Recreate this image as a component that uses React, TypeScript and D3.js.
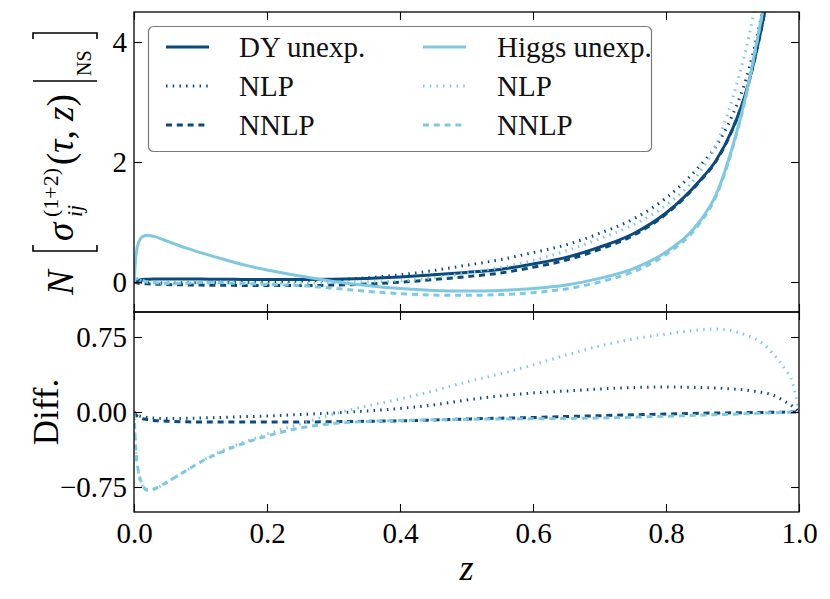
import React, { useRef, useEffect } from "react";
import * as d3 from "d3";

// z grid (denser near the endpoints where the curves change fast)
const zGrid = [0, 0.003, 0.007, 0.012, 0.02, 0.03, 0.045, 0.06, 0.08, 0.1, 0.125, 0.15, 0.175, 0.2, 0.25, 0.3, 0.35, 0.4, 0.45, 0.5, 0.55, 0.6, 0.65, 0.7, 0.75, 0.8, 0.85, 0.875, 0.9, 0.92, 0.94, 0.95, 0.96, 0.97, 0.98, 0.99, 1.0];

// unexpanded results (top panel)
const dyUnexp = [0, 0.02, 0.03, 0.04, 0.045, 0.05, 0.05, 0.05, 0.05, 0.048, 0.046, 0.044, 0.042, 0.04, 0.04, 0.045, 0.06, 0.085, 0.12, 0.16, 0.21, 0.3, 0.41, 0.58, 0.8, 1.15, 1.68, 2.02, 2.55, 3.15, 4.05, 4.6, 5.3, 6.2, 7.4, 9, 11];
const higgsUnexp = [0, 0.45, 0.66, 0.75, 0.78, 0.76, 0.7, 0.64, 0.56, 0.49, 0.41, 0.33, 0.26, 0.2, 0.1, 0.01, -0.06, -0.11, -0.14, -0.15, -0.14, -0.11, -0.05, 0.06, 0.22, 0.5, 1.0, 1.45, 2.25, 3.1, 4.2, 4.8, 5.6, 6.6, 8, 10, 12];

// expansion minus unexpanded (bottom panel)
const dyNlpDiff = [0, -0.02, -0.035, -0.045, -0.055, -0.06, -0.065, -0.065, -0.063, -0.06, -0.055, -0.05, -0.045, -0.04, -0.025, -0.01, 0.01, 0.035, 0.07, 0.12, 0.16, 0.19, 0.21, 0.23, 0.245, 0.25, 0.245, 0.24, 0.23, 0.22, 0.2, 0.19, 0.17, 0.14, 0.1, 0.06, 0];
const dyNnlpDiff = [0, -0.03, -0.05, -0.065, -0.075, -0.085, -0.09, -0.095, -0.098, -0.1, -0.1, -0.1, -0.1, -0.1, -0.1, -0.097, -0.093, -0.088, -0.08, -0.07, -0.062, -0.055, -0.045, -0.037, -0.028, -0.02, -0.013, -0.01, -0.008, -0.006, -0.005, -0.004, -0.003, -0.002, -0.001, -0.0005, 0];
const higgsNlpDiff = [0, -0.42, -0.62, -0.73, -0.78, -0.77, -0.72, -0.66, -0.58, -0.5, -0.41, -0.34, -0.28, -0.22, -0.12, -0.02, 0.06, 0.13, 0.21, 0.3, 0.38, 0.47, 0.57, 0.66, 0.73, 0.78, 0.82, 0.83, 0.81, 0.77, 0.71, 0.66, 0.59, 0.51, 0.42, 0.3, 0];
const higgsNnlpDiff = [0, -0.4, -0.6, -0.72, -0.78, -0.77, -0.72, -0.66, -0.58, -0.5, -0.42, -0.35, -0.29, -0.24, -0.16, -0.115, -0.095, -0.085, -0.078, -0.072, -0.07, -0.068, -0.065, -0.06, -0.052, -0.042, -0.032, -0.027, -0.022, -0.018, -0.013, -0.01, -0.008, -0.006, -0.004, -0.002, 0];

const topTicks = [0, 2, 4];
const diffTicks = [-0.75, 0, 0.75];
const zTicks = [0, 0.2, 0.4, 0.6, 0.8, 1.0];

const dyLabels = ["DY unexp.", "NLP", "NNLP"];
const higgsLabels = ["Higgs unexp.", "NLP", "NNLP"];

const DARK = "#0b4a7e";
const LIGHT = "#80c8e2";
const SERIF = "'Liberation Serif', 'Times New Roman', serif";
const DOT = "1.5 5.2";
const DASH = "6 4.8";

const W = 830;
const H = 599;
const left = 134;
const right = 799;
const top = 12;
const mid = 312;
const bottom = 512;

export default function App() {
  const svgRef = useRef<SVGSVGElement>(null);

  useEffect(() => {
    if (!svgRef.current) return;
    const svg = d3.select(svgRef.current);
    svg.selectAll("*").remove();

    const x = d3.scaleLinear().domain([0, 1]).range([left, right]);
    const yTop = d3.scaleLinear().domain([-0.5, 4.5]).range([mid, top]);
    const yBot = d3.scaleLinear().domain([-1, 1]).range([bottom, mid]);

    const defs = svg.append("defs");
    defs.append("clipPath").attr("id", "clipTop").append("rect")
      .attr("x", left).attr("y", top).attr("width", right - left).attr("height", mid - top);
    defs.append("clipPath").attr("id", "clipBot").append("rect")
      .attr("x", left).attr("y", mid).attr("width", right - left).attr("height", bottom - mid);

    const add = (a: number[], b: number[]) => a.map((v, i) => v + b[i]);

    const series = [
      { color: DARK, dash: null, top: dyUnexp, diff: null },
      { color: DARK, dash: DOT, top: add(dyUnexp, dyNlpDiff), diff: dyNlpDiff },
      { color: DARK, dash: DASH, top: add(dyUnexp, dyNnlpDiff), diff: dyNnlpDiff },
      { color: LIGHT, dash: null, top: higgsUnexp, diff: null },
      { color: LIGHT, dash: DOT, top: add(higgsUnexp, higgsNlpDiff), diff: higgsNlpDiff },
      { color: LIGHT, dash: DASH, top: add(higgsUnexp, higgsNnlpDiff), diff: higgsNnlpDiff },
    ];

    const lineTop = d3.line<number>()
      .x((_, i) => x(zGrid[i]))
      .y(d => yTop(d))
      .curve(d3.curveMonotoneX);
    const lineBot = d3.line<number>()
      .x((_, i) => x(zGrid[i]))
      .y(d => yBot(d))
      .curve(d3.curveMonotoneX);

    const gTop = svg.append("g").attr("clip-path", "url(#clipTop)");
    const gBot = svg.append("g").attr("clip-path", "url(#clipBot)");

    series.forEach(s => {
      gTop.append("path")
        .attr("d", lineTop(s.top))
        .attr("fill", "none")
        .attr("stroke", s.color)
        .attr("stroke-width", 3)
        .attr("stroke-dasharray", s.dash);
      if (s.diff) {
        gBot.append("path")
          .attr("d", lineBot(s.diff))
          .attr("fill", "none")
          .attr("stroke", s.color)
          .attr("stroke-width", 3)
          .attr("stroke-dasharray", s.dash);
      }
    });

    // axes: inward ticks on every side
    const style = (g: any, fs = 29) => {
      g.select(".domain").remove();
      g.attr("font-family", SERIF).attr("font-size", fs);
      g.selectAll("line").attr("stroke", "#000").attr("stroke-width", 1.1);
      g.selectAll("text").attr("fill", "#000");
    };
    const none = () => "";

    svg.append("g").attr("transform", `translate(${left},0)`)
      .call(d3.axisLeft(yTop).tickValues(topTicks).tickSize(-8).tickPadding(7).tickFormat(d3.format("d")) as any)
      .call(style);
    svg.append("g").attr("transform", `translate(${right},0)`)
      .call(d3.axisRight(yTop).tickValues(topTicks).tickSize(-8).tickFormat(none) as any)
      .call(style);
    svg.append("g").attr("transform", `translate(0,${top})`)
      .call(d3.axisTop(x).tickValues(zTicks).tickSize(-8).tickFormat(none) as any)
      .call(style);
    svg.append("g").attr("transform", `translate(0,${mid})`)
      .call(d3.axisBottom(x).tickValues(zTicks).tickSize(-8).tickFormat(none) as any)
      .call(style);

    svg.append("g").attr("transform", `translate(${left},0)`)
      .call(d3.axisLeft(yBot).tickValues(diffTicks).tickSize(-8).tickPadding(7).tickFormat(d3.format(".2f")) as any)
      .call(style);
    svg.append("g").attr("transform", `translate(${right},0)`)
      .call(d3.axisRight(yBot).tickValues(diffTicks).tickSize(-8).tickFormat(none) as any)
      .call(style);
    svg.append("g").attr("transform", `translate(0,${mid})`)
      .call(d3.axisTop(x).tickValues(zTicks).tickSize(-8).tickFormat(none) as any)
      .call(style);
    svg.append("g").attr("transform", `translate(0,${bottom})`)
      .call(d3.axisBottom(x).tickValues(zTicks).tickSize(-8).tickPadding(10).tickFormat(d3.format(".1f")) as any)
      .call(style);

    // spines
    [[top, mid], [mid, bottom]].forEach(([y0, y1]) => {
      svg.append("rect")
        .attr("x", left).attr("y", y0)
        .attr("width", right - left).attr("height", y1 - y0)
        .attr("fill", "none").attr("stroke", "#000").attr("stroke-width", 1.3);
    });

    // legend
    const lg = svg.append("g");
    lg.append("rect")
      .attr("x", 148.5).attr("y", 26.5).attr("width", 503).attr("height", 125)
      .attr("rx", 5).attr("fill", "#fff").attr("stroke", "#7a7a7a").attr("stroke-width", 1.2);
    const rows = [47, 86, 125];
    const dashes = [null, DOT, DASH];
    [{ labels: dyLabels, color: DARK, x0: 166, tx: 239 }, { labels: higgsLabels, color: LIGHT, x0: 423, tx: 497 }]
      .forEach(col => {
        col.labels.forEach((lab, i) => {
          lg.append("line")
            .attr("x1", col.x0).attr("x2", col.x0 + 43)
            .attr("y1", rows[i]).attr("y2", rows[i])
            .attr("stroke", col.color).attr("stroke-width", 3)
            .attr("stroke-dasharray", dashes[i]);
          lg.append("text")
            .attr("x", col.tx).attr("y", rows[i] + 10)
            .attr("font-family", SERIF).attr("font-size", 29)
            .attr("fill", "#111")
            .text(lab);
        });
      });

    // x label
    svg.append("text")
      .attr("x", (left + right) / 2).attr("y", 580)
      .attr("text-anchor", "middle")
      .attr("font-family", SERIF).attr("font-size", 36).attr("font-style", "italic")
      .text("z");

    // Diff. label
    svg.append("text")
      .attr("transform", `translate(58,${yBot(0)}) rotate(-90)`)
      .attr("text-anchor", "middle")
      .attr("font-family", SERIF).attr("font-size", 35)
      .text("Diff.");

    // y label: N [ sigma_ij^(1+2)(tau, z) |_NS ]
    const yl = svg.append("g")
      .attr("transform", "translate(73,295) rotate(-90)")
      .attr("font-family", SERIF).attr("fill", "#000");
    const txt = (u: number, v: number, s: string, fs: number, italic = false) =>
      yl.append("text").attr("x", u).attr("y", v).attr("font-size", fs)
        .attr("font-style", italic ? "italic" : "normal").text(s);
    txt(0, 0, "N", 37, true);
    txt(54, 0, "σ", 37, true);
    txt(78, -15, "(1+2)", 22);
    txt(78, 9, "ij", 22, true);
    const paren = yl.append("text").attr("x", 130).attr("y", 0).attr("font-size", 37);
    paren.append("tspan").text("(");
    paren.append("tspan").attr("font-style", "italic").text("τ");
    paren.append("tspan").text(", ");
    paren.append("tspan").attr("font-style", "italic").text("z");
    paren.append("tspan").text(")");
    txt(219, 18, "NS", 20);
    const br = (d: string) => yl.append("path").attr("d", d)
      .attr("fill", "none").attr("stroke", "#000").attr("stroke-width", 1.6);
    br("M50,-40 L44,-40 L44,24 L50,24");
    br("M214,-40 L214,24");
    br("M256,-40 L262,-40 L262,24 L256,24");
  }, []);

  return (
    <svg
      ref={svgRef}
      width={W}
      height={H}
      style={{ position: "absolute", left: 0, top: 0, background: "#fff" }}
    />
  );
}
